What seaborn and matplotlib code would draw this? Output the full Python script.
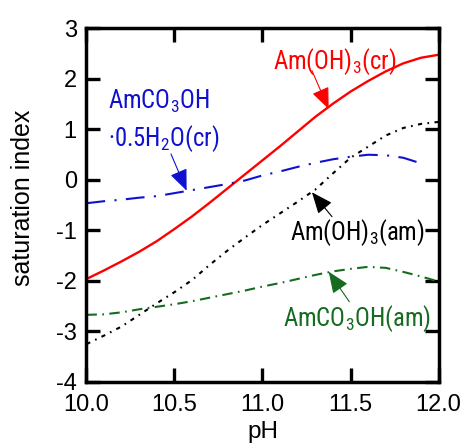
import numpy as np
import pandas as pd
import matplotlib
matplotlib.use("Agg")
import matplotlib.pyplot as plt
from matplotlib import font_manager
import seaborn as sns

# pH grid
ph = [10.0, 10.1, 10.2, 10.3, 10.4, 10.5, 10.6, 10.7, 10.8, 10.9, 11.0,
      11.1, 11.2, 11.3, 11.4, 11.5, 11.6, 11.7, 11.8, 11.9, 12.0]

# saturation index of each solid phase
si_amoh3_cr = [-1.96, -1.79, -1.61, -1.42, -1.21, -0.97, -0.72, -0.45, -0.17, 0.11, 0.39,
               0.67, 0.96, 1.25, 1.51, 1.75, 1.96, 2.15, 2.31, 2.42, 2.48]
si_amoh3_am = [-3.25, -3.08, -2.90, -2.67, -2.44, -2.22, -1.98, -1.68, -1.40, -1.14, -0.89,
               -0.66, -0.43, -0.19, 0.13, 0.44, 0.66, 0.88, 1.03, 1.11, 1.15]
si_amco3oh_cr = [-0.46, -0.42, -0.39, -0.35, -0.32, -0.26, -0.20, -0.14, -0.08, -0.01, 0.09,
                 0.17, 0.26, 0.34, 0.41, 0.46, 0.50, 0.49, 0.44, 0.33]
si_amco3oh_am = [-2.67, -2.66, -2.62, -2.56, -2.51, -2.46, -2.40, -2.33, -2.26, -2.19, -2.11,
                 -2.04, -1.96, -1.88, -1.81, -1.76, -1.72, -1.74, -1.82, -1.91, -2.01]

RED = '#ff0000'
BLUE = '#1010d0'
BLACK = '#000000'
GREEN = '#156b1f'

sns.set_style("ticks", rc={'axes.edgecolor': 'black', 'text.color': 'black',
                           'axes.labelcolor': 'black', 'xtick.color': 'black',
                           'ytick.color': 'black'})
plt.rcParams['font.family'] = ['Liberation Sans', 'DejaVu Sans']
plt.rcParams['mathtext.fontset'] = 'custom'
plt.rcParams['mathtext.rm'] = 'Liberation Sans'


def narrow_font():
    # the curve labels use a condensed face; fall back to a smaller regular one
    for name in ['Liberation Sans Narrow', 'Roboto Condensed']:
        try:
            font_manager.findfont(font_manager.FontProperties(family=name),
                                  fallback_to_default=False)
            return [name, 'DejaVu Sans'], 17.8
        except ValueError:
            pass
    return ['Liberation Sans', 'DejaVu Sans'], 15.3


LABEL_FONT, LABEL_SIZE = narrow_font()

fig = plt.figure(figsize=(4.66, 4.43), dpi=100)
ax = fig.add_axes([0.1856, 0.1377, 0.7554, 0.798])

series = [
    (si_amoh3_cr, RED, 1.7, '-'),
    (si_amoh3_am, BLACK, 1.5, (0, (2.0, 2.6, 0.8, 2.6))),
    (si_amco3oh_cr, BLUE, 1.5, (0, (9.0, 4.5, 1.0, 4.5))),
    (si_amco3oh_am, GREEN, 1.5, (0, (5.0, 2.6, 0.8, 2.6))),
]
for values, color, lw, ls in series:
    df = pd.DataFrame({'pH': ph[:len(values)], 'SI': values})
    sns.lineplot(data=df, x='pH', y='SI', ax=ax, color=color,
                 linewidth=lw, linestyle=ls, legend=False)

ax.set_xlim(10.0, 12.0)
ax.set_ylim(-4, 3)
ax.set_xticks([10.0, 10.5, 11.0, 11.5, 12.0])
ax.set_xticklabels(['10.0', '10.5', '11.0', '11.5', '12.0'])
ax.set_yticks(range(-4, 4))
ax.set_yticklabels(['-4', '-3', '-2', '-1', '0', '1', '2', '3'])
ax.tick_params(direction='in', length=10, width=2.4, labelsize=17,
               top=True, right=True, pad=7)
ax.tick_params(axis='x', pad=9)
for sp in ax.spines.values():
    sp.set_linewidth(2.5)

ax.set_xlabel('pH', fontsize=17.5, labelpad=3)
ax.set_ylabel('saturation index', fontsize=18)
ax.yaxis.set_label_coords(-0.145, 0.52)

arrow = dict(arrowstyle='-|>,head_length=0.6,head_width=0.25',
             lw=0.8, mutation_scale=22, shrinkA=0, shrinkB=0)

# labels with their pointer arrows
ax.text(11.408, 2.20, 'Am(OH)$_\\mathregular{3}$(cr)', color=RED, ha='center',
        va='baseline', fontsize=LABEL_SIZE, family=LABEL_FONT)
ax.annotate('', xy=(11.376, 1.406), xytext=(11.281, 2.165),
            arrowprops=dict(arrow, color=RED))

ax.text(10.122, 1.406, 'AmCO$_\\mathregular{3}$OH', color=BLUE, ha='left',
        va='baseline', fontsize=LABEL_SIZE, family=LABEL_FONT)
ax.text(10.125, 0.667, '\u00b70.5H$_\\mathregular{2}$O(cr)', color=BLUE, ha='left',
        va='baseline', fontsize=LABEL_SIZE, family=LABEL_FONT)
ax.annotate('', xy=(10.569, -0.212), xytext=(10.480, 0.515),
            arrowprops=dict(arrow, color=BLUE))

ax.text(11.537, -1.188, 'Am(OH)$_\\mathregular{3}$(am)', color=BLACK, ha='center',
        va='baseline', fontsize=LABEL_SIZE, family=LABEL_FONT)
ax.annotate('', xy=(11.281, -0.244), xytext=(11.395, -0.727),
            arrowprops=dict(arrow, color=BLACK))

ax.text(11.537, -2.891, 'AmCO$_\\mathregular{3}$OH(am)', color=GREEN, ha='center',
        va='baseline', fontsize=LABEL_SIZE, family=LABEL_FONT)
ax.annotate('', xy=(11.376, -1.816), xytext=(11.493, -2.410),
            arrowprops=dict(arrow, color=GREEN))

fig.savefig('out.png', dpi=100)
